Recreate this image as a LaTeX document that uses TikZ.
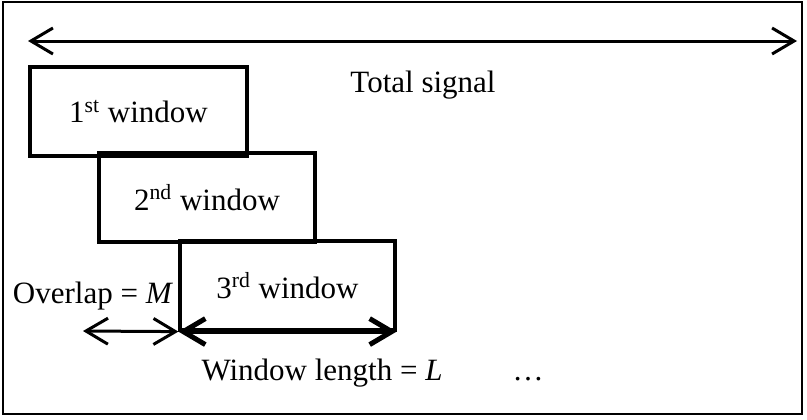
\documentclass[tikz,border=0pt]{standalone}
\usepackage{fontspec}
\setmainfont{Liberation Serif}
\usetikzlibrary{arrows.meta}

\tikzset{
  win/.style={draw, line width=1.6pt, minimum width=#1, minimum height=44.5pt,
    inner sep=0pt, font=\fontsize{15.5}{18}\selectfont},
  txt/.style={inner sep=0pt, font=\fontsize{15.5}{18}\selectfont},
  span/.style={{Straight Barb[length=11pt,width=13pt]}-{Straight Barb[length=11pt,width=13pt]},
    line width=1.5pt},
}

\begin{document}
\begin{tikzpicture}[x=0.5pt,y=-0.5pt]

\useasboundingbox (0,0) rectangle (807,419);
\draw[line width=1pt] (3,2) rectangle (802,414);

% total signal
\coordinate (sigL) at (28,41);
\coordinate (sigR) at (797,41);
\draw[span] (sigL) -- (sigR);
\node[txt, anchor=base] (total) at (423,92) {Total signal};

% windows
\node[win=108.5pt] (w1) at (138.5,111.5) {1\textsuperscript{st} window};
\node[win=108pt] (w2) at (207,197.5) {2\textsuperscript{nd} window};
\node[win=107.5pt] (w3) at (287.5,285.5) {3\textsuperscript{rd} window};

% overlap and length
\coordinate (ovL) at (83,331);
\draw[span] (ovL) -- (w3.south west);
\draw[span, line width=2.5pt] (w3.south west) -- (w3.south east);

\node[txt, anchor=base] (ovlab) at (93,303) {Overlap = \textit{M}};
\node[txt, anchor=base] (wlen) at (322,380) {Window length = \textit{L}};
\node[txt, anchor=base] (more) at (528,380) {\dots};

\end{tikzpicture}
\end{document}
